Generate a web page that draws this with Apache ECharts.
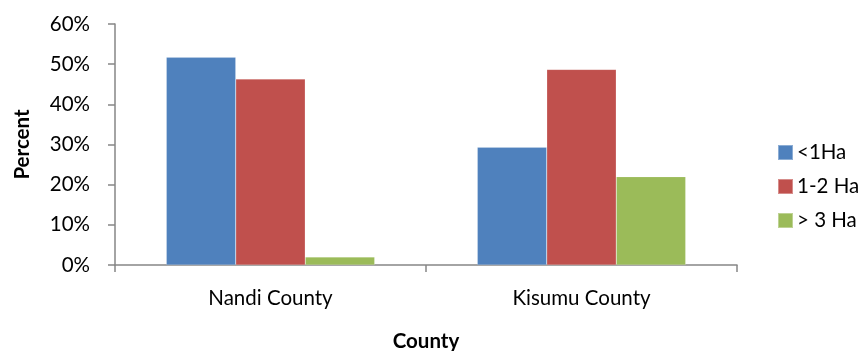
<!DOCTYPE html>
<html>
<head>
<meta charset="utf-8">
<script src="https://cdn.jsdelivr.net/npm/echarts@6/dist/echarts.min.js"></script>
<style>
  html, body { margin: 0; padding: 0; background: #fff; }
  #chart { width: 867px; height: 351px; }
</style>
</head>
<body>
<div id="chart"></div>
<script>
// Farm size distribution by county (share of households)
const counties = ['Nandi County', 'Kisumu County'];
const seriesNames = ['<1Ha', '1-2 Ha', '> 3 Ha'];
const under1Ha = [0.517, 0.293];
const oneToTwoHa = [0.463, 0.487];
const over3Ha = [0.020, 0.220];
const yTicks = ['0%', '10%', '20%', '30%', '40%', '50%', '60%'];

const colors = ['#4F81BD', '#C0504D', '#9BBB59'];
const FONT = 'Lato, "Liberation Sans", sans-serif';
const axisGray = '#868686';

const chart = echarts.init(document.getElementById('chart'), null, { renderer: 'canvas' });

const values = [under1Ha, oneToTwoHa, over3Ha];

chart.setOption({
  animation: false,
  color: colors,
  textStyle: { fontFamily: FONT },
  grid: { left: 115, right: 130, top: 24, bottom: 86, containLabel: false, outerBoundsMode: 'none' },
  legend: {
    orient: 'vertical',
    left: 772,
    top: 137,
    itemWidth: 15,
    itemHeight: 15,
    itemGap: 13,
    icon: 'rect',
    textStyle: { fontSize: 20.5, color: '#000', fontFamily: FONT, padding: [0, 0, 0, -1] },
    data: seriesNames
  },
  xAxis: {
    type: 'category',
    data: counties,
    name: 'County',
    nameLocation: 'middle',
    nameGap: 66,
    nameTextStyle: { fontSize: 20.5, fontWeight: 'bold', color: '#000', fontFamily: FONT },
    axisLine: { lineStyle: { color: axisGray, width: 1.5 } },
    axisTick: { show: true, length: 7, lineStyle: { color: axisGray, width: 1.5 } },
    axisLabel: { fontSize: 20.5, color: '#000', margin: 23, fontFamily: FONT }
  },
  yAxis: {
    type: 'value',
    min: 0,
    max: 0.6,
    interval: 0.1,
    name: 'Percent',
    nameLocation: 'middle',
    nameGap: 82,
    nameRotate: 90,
    nameTextStyle: { fontSize: 20.5, fontWeight: 'bold', color: '#000', fontFamily: FONT },
    splitLine: { show: false },
    axisLine: { show: true, lineStyle: { color: axisGray, width: 1.5 } },
    axisTick: { show: true, length: 7, lineStyle: { color: axisGray, width: 1.5 } },
    axisLabel: {
      fontSize: 20.5,
      color: '#000',
      margin: 25,
      fontFamily: FONT,
      formatter: function (v) { return yTicks[Math.round(v * 10)]; }
    }
  },
  series: seriesNames.map(function (name, i) {
    return {
      name: name,
      type: 'bar',
      data: values[i],
      barGap: '0%',
      barCategoryGap: '33%',
      itemStyle: { borderColor: 'rgba(255,255,255,0.35)', borderWidth: 0.5 }
    };
  })
});
</script>
</body>
</html>
